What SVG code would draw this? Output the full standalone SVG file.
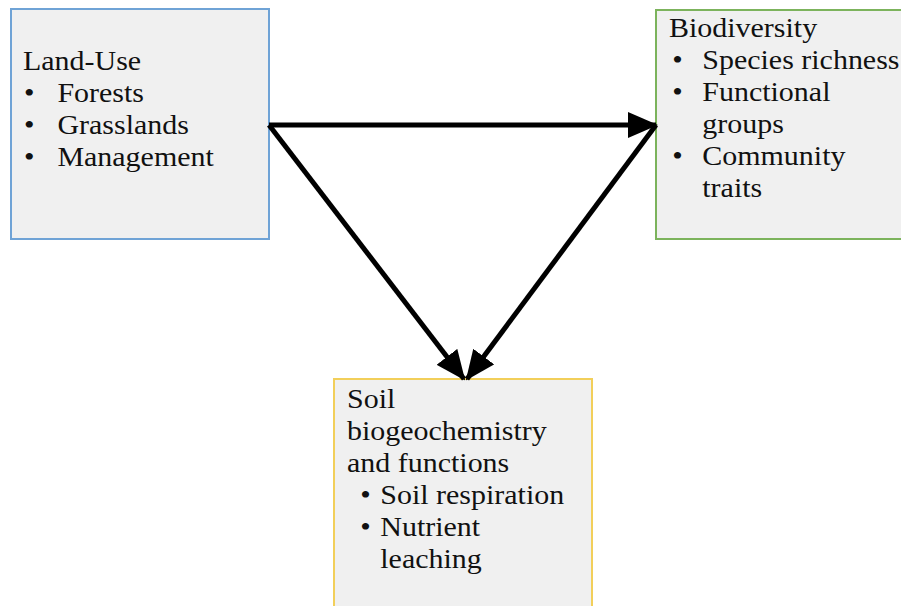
<svg xmlns="http://www.w3.org/2000/svg" width="901" height="606" viewBox="0 0 901 606">
<defs>
<style>
.box{fill:#f0f0f0;stroke-width:2}
.t{font-family:'Times New Roman','Liberation Serif','DejaVu Serif',serif;font-size:27px;fill:#111}
.c{stroke:#000;stroke-width:5;fill:none}
</style>
<marker id="ah" markerUnits="userSpaceOnUse" markerWidth="30" markerHeight="26" refX="28" refY="13" orient="auto" viewBox="0 0 30 26">
<path d="M0,0 L30,13 L0,26 Z" fill="#000"/>
</marker>
</defs>
<rect width="901" height="606" fill="#fff"/>
<g id="landuse">
<rect class="box" x="11" y="9" width="258" height="230" stroke="#6fa3d6"/>
<text class="t" transform="translate(23,0) scale(1.11,1)"><tspan x="0" y="70">Land-Use</tspan><tspan x="1" y="102">•</tspan><tspan x="31" y="102">Forests</tspan><tspan x="1" y="134">•</tspan><tspan x="31" y="134">Grasslands</tspan><tspan x="1" y="166">•</tspan><tspan x="31" y="166">Management</tspan></text>
</g>
<g id="biodiversity">
<rect class="box" x="656" y="10" width="250" height="229" stroke="#7cb35c"/>
<text class="t" transform="translate(669,0) scale(1.11,1)"><tspan x="0" y="37">Biodiversity</tspan><tspan x="3" y="69">•</tspan><tspan x="30" y="69">Species richness</tspan><tspan x="3" y="101">•</tspan><tspan x="30" y="101">Functional</tspan><tspan x="30" y="133">groups</tspan><tspan x="3" y="165">•</tspan><tspan x="30" y="165">Community</tspan><tspan x="30" y="197">traits</tspan></text>
</g>
<g id="soil">
<rect class="box" x="334" y="379" width="258" height="240" stroke="#f2cf5a"/>
<text class="t" transform="translate(347,0) scale(1.11,1)"><tspan x="0" y="408">Soil</tspan><tspan x="0" y="440">biogeochemistry</tspan><tspan x="0" y="472">and functions</tspan><tspan x="12" y="504">•</tspan><tspan x="30" y="504">Soil respiration</tspan><tspan x="12" y="536">•</tspan><tspan x="30" y="536">Nutrient</tspan><tspan x="30" y="568">leaching</tspan></text>
</g>
<g id="connectors">
<line class="c" x1="269" y1="125" x2="656" y2="125" marker-end="url(#ah)"/>
<line class="c" x1="269" y1="125" x2="464" y2="379" marker-end="url(#ah)"/>
<line class="c" x1="656" y1="125" x2="467" y2="379" marker-end="url(#ah)"/>
</g>
</svg>
